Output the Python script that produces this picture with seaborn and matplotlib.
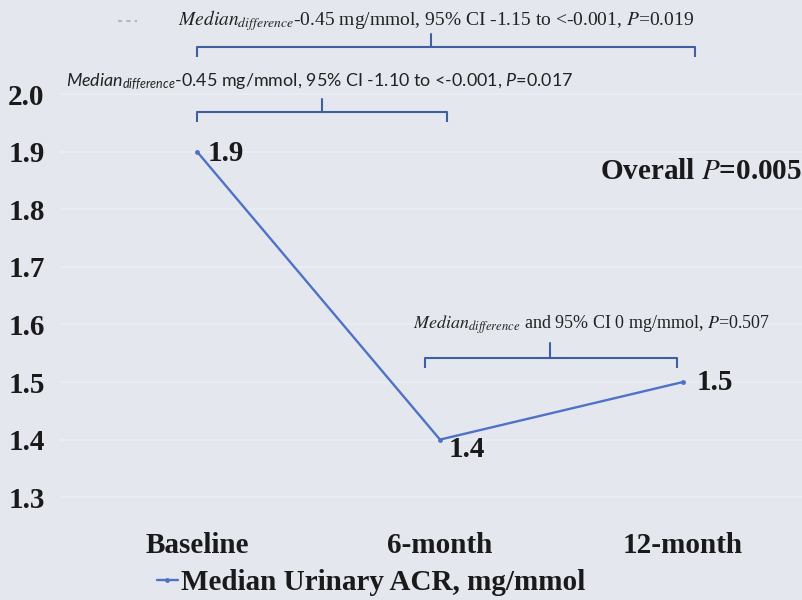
import matplotlib
matplotlib.use("Agg")
import matplotlib.pyplot as plt
import seaborn as sns
import pandas as pd
from matplotlib.lines import Line2D

# ---- data ----
timepoints = ["Baseline", "6-month", "12-month"]
median_acr = [1.9, 1.4, 1.5]
point_labels = ["1.9", "1.4", "1.5"]
y_ticks = [1.3, 1.4, 1.5, 1.6, 1.7, 1.8, 1.9, 2.0]
y_tick_labels = ["1.3", "1.4", "1.5", "1.6", "1.7", "1.8", "1.9", "2.0"]
series_name = "Median Urinary ACR, mg/mmol"
ann_top = r"$\mathit{Median}_{\mathit{difference}}$-0.45 mg/mmol, 95% CI -1.15 to <-0.001, $\mathit{P}$=0.019"
ann_mid = r"$\mathit{Median}_{\mathit{difference}}$-0.45 mg/mmol, 95% CI -1.10 to <-0.001, $\mathit{P}$=0.017"
ann_low = r"$\mathit{Median}_{\mathit{difference}}$ and 95% CI 0 mg/mmol, $\mathit{P}$=0.507"
overall = r"Overall $\mathbf{\mathit{P}}$=0.005"

df = pd.DataFrame({"time": timepoints, "acr": median_acr})

sns.set_theme(style="white")
plt.rcParams["font.family"] = ["Liberation Serif", "DejaVu Serif"]
plt.rcParams["mathtext.fontset"] = "custom"
plt.rcParams["mathtext.it"] = "Lato:italic"
plt.rcParams["mathtext.rm"] = "Lato"
plt.rcParams["mathtext.bf"] = "Lato:bold"

bg = "#e5e7ef"
line_color = "#4f72c6"
txt = "#1a1a1a"
big = 21
W, H = 803, 600
fig = plt.figure(figsize=(W / 100, H / 100), dpi=100, facecolor=bg)

# axes in pixel layout
ax_left, ax_right, ax_top, ax_bottom = 60, 803, 0, 515
ax = fig.add_axes([ax_left / W, 1 - ax_bottom / H, (ax_right - ax_left) / W, (ax_bottom - ax_top) / H])
ax.set_facecolor(bg)

sns.lineplot(data=df, x="time", y="acr", sort=False, ax=ax, color=line_color,
             linewidth=1.7, marker="o", markersize=3.5, markeredgewidth=0,
             label=series_name, legend=False)

# pixel -> data mapping
xs = 243.0  # px per category
x0px = 197.0
ax.set_xlim((ax_left - x0px) / xs, (ax_right - x0px) / xs)
ys = 576.0
y2px = 94.0
ax.set_ylim(2.0 - (ax_bottom - y2px) / ys, 2.0 + (y2px - ax_top) / ys)

ax.set_yticks(y_ticks)
ax.set_yticklabels(y_tick_labels, fontsize=big, fontweight="bold", color=txt)
ax.tick_params(axis="y", length=0, pad=11)
ax.tick_params(axis="x", length=0, pad=12)
for lab in ax.get_xticklabels():
    lab.set_fontsize(big)
    lab.set_fontweight("bold")
    lab.set_color(txt)
ax.set_xlabel("")
ax.set_ylabel("")
for s in ax.spines.values():
    s.set_visible(False)
ax.grid(axis="y", color="#eceef4", linewidth=1.2)
ax.grid(axis="x", visible=False)

# point labels
offsets = [(0.12, -0.004), (0.11, -0.018), (0.13, 0.0)]
for i, (v, t) in enumerate(zip(median_acr, point_labels)):
    ax.text(i + offsets[i][0], v + offsets[i][1], t, fontsize=big, fontweight="bold",
            color=txt, ha="center", va="center")

bcol = "#3f5f9f"
def bracket(xa, xb, y, drop, tick_x, tick_up):
    ax.plot([xa, xa, xb, xb], [y - drop, y, y, y - drop], color=bcol, lw=1.5, solid_capstyle="butt")
    ax.plot([tick_x, tick_x], [y, y + tick_up], color=bcol, lw=1.5)

bracket(0.0, 2.05, 2.082, 0.018, 0.964, 0.022)
bracket(0.0, 1.03, 1.969, 0.018, 0.514, 0.022)
bracket(0.94, 1.975, 1.542, 0.018, 1.453, 0.026)

ax.text(0.984, 2.127, ann_top, fontsize=14, ha="center", va="center", color="#222222",
        math_fontfamily="stix")
ax.text(0.505, 2.021, ann_mid, fontsize=12.9, ha="center", va="center", color="#222222",
        family=["Lato", "DejaVu Sans"], math_fontfamily="custom")
ax.text(1.625, 1.599, ann_low, fontsize=13, ha="center", va="center", color="#222222",
        math_fontfamily="stix")
ax.text(2.49, 1.866, overall, fontsize=big, fontweight="bold", ha="right", va="center", color=txt,
        math_fontfamily="stix")

# faint dashed legend remnant
fig.add_artist(Line2D([118 / W, 137 / W], [1 - 21 / H, 1 - 21 / H], color="#b4b6bc",
                      lw=1.5, ls=(0, (2, 2))))

handle = Line2D([], [], color=line_color, lw=1.7, marker="o", markersize=3.5, markeredgewidth=0)
leg = fig.legend([handle], [series_name], loc="center", bbox_to_anchor=(0.462, 1 - 583 / H),
                 frameon=False, handlelength=0.7, handletextpad=0.1,
                 prop={"family": "Liberation Serif", "weight": "bold", "size": big})
for t in leg.get_texts():
    t.set_color(txt)

fig.savefig("out.png", dpi=100, facecolor=bg)
